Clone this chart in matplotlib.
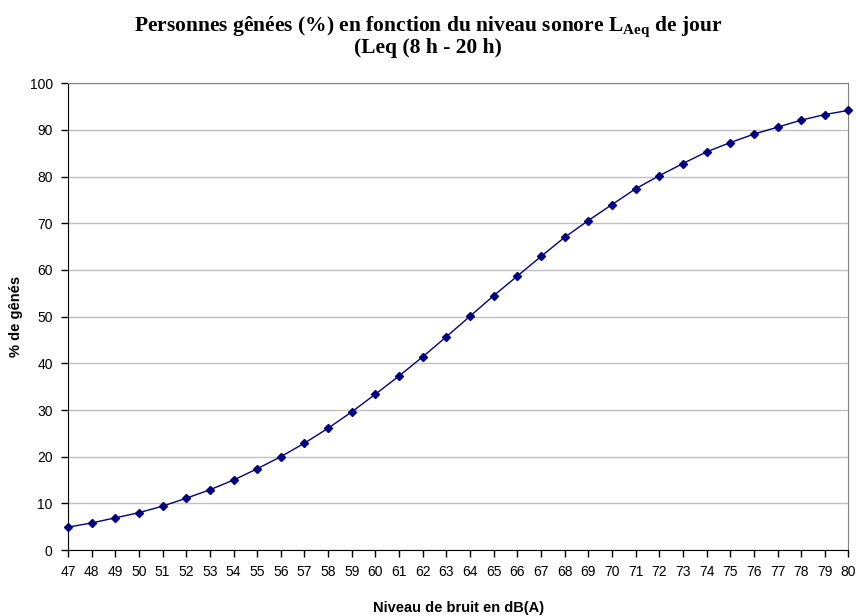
import matplotlib
matplotlib.use('Agg')
import matplotlib.pyplot as plt

# niveau sonore dB(A) et % de gênés
niveau = list(range(47, 81))
genes = [4.9, 5.8, 6.9, 8.0, 9.4, 11.1, 12.9, 15.0, 17.4, 20.0,
         22.9, 26.1, 29.6, 33.4, 37.3, 41.4, 45.7, 50.1, 54.5, 58.7,
         62.9, 67.0, 70.6, 74.0, 77.4, 80.2, 82.8, 85.3, 87.3, 89.1,
         90.6, 92.1, 93.3, 94.2]
yticks = list(range(0, 101, 10))

fig = plt.figure(figsize=(8.56, 6.16), dpi=100)
ax = fig.add_axes([0.0794, 0.1071, 0.9118, 0.7577])

ax.plot(niveau, genes, '-', color='#000080', lw=1.0,
        marker='D', markersize=4.5, markerfacecolor='#000080',
        markeredgecolor='#000080', clip_on=False, zorder=3)

ax.set_xlim(47, 80)
ax.set_ylim(0, 100)
ax.set_xticks(niveau)
ax.set_yticks(yticks)
ax.grid(axis='y', color='#c0c0c0', lw=1.0)
ax.set_axisbelow(True)

for s in ['top', 'right']:
    ax.spines[s].set_color('#808080')
for s in ['left', 'bottom']:
    ax.spines[s].set_color('black')

ax.tick_params(direction='out', length=5, width=1, labelsize=10,
               pad=6)
for lab in ax.get_xticklabels() + ax.get_yticklabels():
    lab.set_fontfamily('Liberation Sans')

ax.set_xlabel('Niveau de bruit en dB(A)', fontsize=10.5, fontweight='bold',
              family='Liberation Sans')
ax.set_ylabel('% de gênés', fontsize=10.5, fontweight='bold',
              family='Liberation Sans')
ax.xaxis.set_label_coords(0.5, -0.109)
ax.yaxis.set_label_coords(-0.058, 0.5)

fig.text(0.5, 1 - 31 / 616,
         r'Personnes gênées (%) en fonction du niveau sonore L$_\mathregular{Aeq}$ de jour',
         ha='center', va='baseline', fontsize=15.5, fontweight='bold',
         family='Liberation Serif')
fig.text(0.5, 1 - 53.5 / 616, '(Leq (8 h - 20 h)', ha='center', va='baseline',
         fontsize=15.5, fontweight='bold', family='Liberation Serif')

fig.savefig('out.png', dpi=100)
